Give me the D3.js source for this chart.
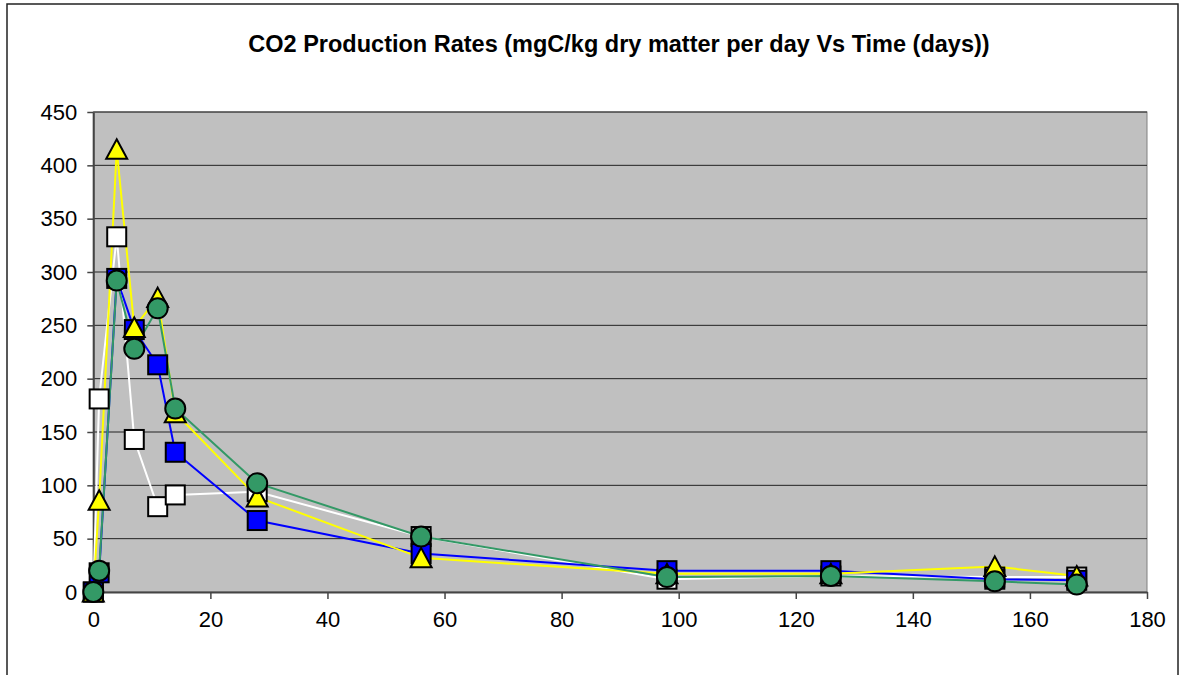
<!DOCTYPE html>
<html>
<head>
<meta charset="utf-8">
<script src="https://cdn.jsdelivr.net/npm/d3@7"></script>
<style>
  body { margin: 0; background: #fff; }
  svg { display: block; font-family: Arial, "Liberation Sans", sans-serif; }
</style>
</head>
<body>
<div id="chart"></div>
<script>
// Days of sampling
const days = [0, 1, 4, 7, 11, 14, 28, 56, 98, 126, 154, 168];

// CO2 production rates per series (mgC/kg dry matter per day)
const whiteSeries  = [0, 181, 333, 143, 80, 91, 94, 52, 12, 15, 14, 14];
const blueSeries   = [0, 18, 294, 246, 213, 131, 67, 36, 20, 20, 12, 11];
const yellowSeries = [0, 86, 415, 248, 276, 168, 89, 32, 17, 17, 24, 15];
const greenSeries  = [0, 20, 292, 228, 266, 172, 102, 52, 14, 15, 10, 7];

const xTicks = [0, 20, 40, 60, 80, 100, 120, 140, 160, 180];
const yTicks = [0, 50, 100, 150, 200, 250, 300, 350, 400, 450];

const titleText = "CO2 Production Rates (mgC/kg dry matter per day Vs Time (days))";

const width = 1184;
const height = 675;
const plot = { left: 93.3, right: 1147, top: 112, bottom: 592 };

const svg = d3.select("#chart")
    .append("svg")
    .attr("width", width)
    .attr("height", height);

// outer chart border
svg.append("rect")
    .attr("x", 7).attr("y", 4)
    .attr("width", 1171).attr("height", 690)
    .attr("fill", "#fff")
    .attr("stroke", "#222")
    .attr("stroke-width", 1.5);

svg.append("text")
    .attr("x", 619)
    .attr("y", 52)
    .attr("text-anchor", "middle")
    .style("font-size", "23.5px")
    .style("font-weight", "bold")
    .text(titleText);

// Scales
const xScale = d3.scaleLinear().domain([0, 180]).range([plot.left, plot.right]);
const yScale = d3.scaleLinear().domain([0, 450]).range([plot.bottom, plot.top]);

// plot area
svg.append("rect")
    .attr("x", plot.left).attr("y", plot.top)
    .attr("width", plot.right - plot.left)
    .attr("height", plot.bottom - plot.top)
    .attr("fill", "#c0c0c0")
    .attr("stroke", "#808080")
    .attr("stroke-width", 1);

// gridlines
svg.append("g")
    .selectAll("line")
    .data(yTicks.filter(d => d > 0))
    .join("line")
    .attr("x1", plot.left).attr("x2", plot.right)
    .attr("y1", d => yScale(d)).attr("y2", d => yScale(d))
    .attr("stroke", "#222")
    .attr("stroke-width", 1);

// Axes
const xAxis = svg.append("g")
    .attr("transform", `translate(0,${plot.bottom})`)
    .call(d3.axisBottom(xScale).tickValues(xTicks).tickSize(7).tickPadding(12).tickSizeOuter(0));

const yAxis = svg.append("g")
    .attr("transform", `translate(${plot.left},0)`)
    .call(d3.axisLeft(yScale).tickValues(yTicks).tickSize(6).tickPadding(10).tickSizeOuter(0));

[xAxis, yAxis].forEach(ax => {
    ax.select(".domain").attr("stroke", "#444").attr("stroke-width", 2);
    ax.selectAll(".tick line").attr("stroke", "#444").attr("stroke-width", 1.5);
    ax.selectAll(".tick text")
        .attr("fill", "#000")
        .style("font-family", "Arial, 'Liberation Sans', sans-serif")
        .style("font-size", "22px");
});

const series = [
    { values: whiteSeries,  color: "#ffffff", marker: "square" },
    { values: blueSeries,   color: "#0000ff", marker: "square" },
    { values: yellowSeries, color: "#ffff00", marker: "triangle" },
    { values: greenSeries,  color: "#339966", marker: "circle" }
];

const line = d3.line()
    .x(d => xScale(d.day))
    .y(d => yScale(d.value));

series.forEach(s => {
    s.points = days.map((day, i) => ({ day: day, value: s.values[i] }));
});

// lines first
series.forEach(s => {
    svg.append("path")
        .datum(s.points)
        .attr("d", line)
        .attr("fill", "none")
        .attr("stroke", s.color)
        .attr("stroke-width", 2);
});

// then markers
series.forEach(s => {
    const g = svg.append("g");
    const pts = g.selectAll("g").data(s.points).join("g")
        .attr("transform", d => `translate(${xScale(d.day)},${yScale(d.value)})`);
    if (s.marker === "square") {
        pts.append("rect")
            .attr("x", -9.5).attr("y", -9.5)
            .attr("width", 19).attr("height", 19)
            .attr("fill", s.color).attr("stroke", "#000").attr("stroke-width", 2);
    } else if (s.marker === "triangle") {
        pts.append("path")
            .attr("d", "M0,-10L10.5,9.5L-10.5,9.5Z")
            .attr("fill", s.color).attr("stroke", "#000").attr("stroke-width", 2)
            .attr("stroke-linejoin", "miter");
    } else {
        pts.append("circle")
            .attr("r", 10)
            .attr("fill", s.color).attr("stroke", "#000").attr("stroke-width", 2);
    }
});
</script>
</body>
</html>
